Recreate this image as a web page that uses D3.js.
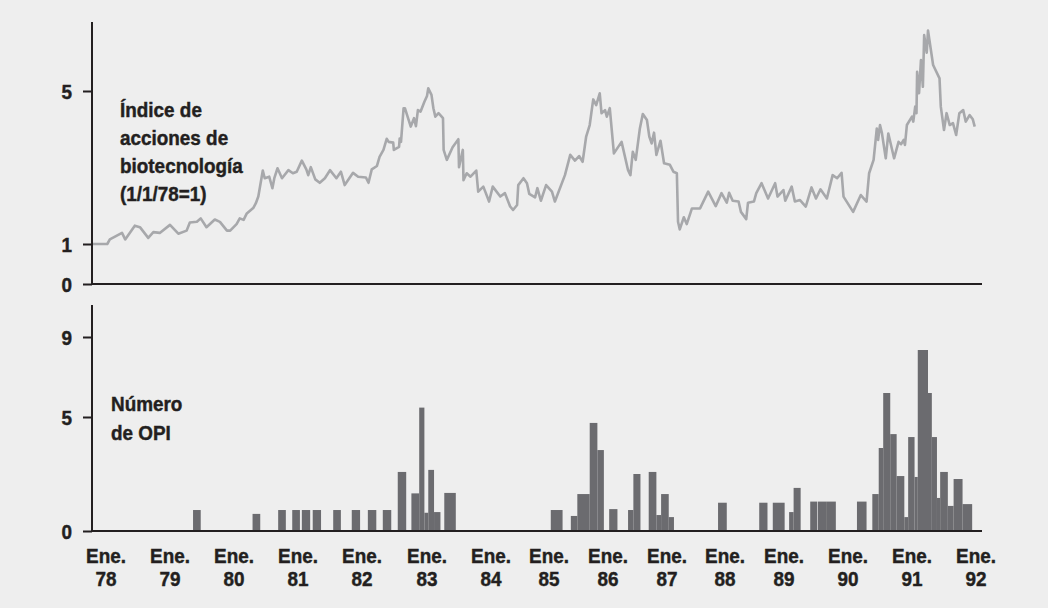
<!DOCTYPE html>
<html><head><meta charset="utf-8">
<script src="https://cdn.jsdelivr.net/npm/d3@7/dist/d3.min.js"></script>
<style>
html,body{margin:0;padding:0;background:#eeeeee;}
svg{display:block;}
text{font-family:"Liberation Sans",Arial,Helvetica,sans-serif;font-weight:bold;fill:#231f20;stroke:#231f20;stroke-width:0.45px;}
</style></head>
<body>
<svg id="chart" width="1048" height="608"></svg>
<script>
// ---- data ----
const yearTicks = [1978,1979,1980,1981,1982,1983,1984,1985,1986,1987,1988,1989,1990,1991,1992];
const tickLabels = ["78","79","80","81","82","83","84","85","86","87","88","89","90","91","92"];
const topTicks = [0,1,5];
const bottomTicks = [0,5,9];
const indexTitle = ["Índice de","acciones de","biotecnología","(1/1/78=1)"];
const ipoTitle = ["Número","de OPI"];

const indexDates = [1977.78,1978.02,1978.06,1978.25,1978.30,1978.45,1978.53,1978.66,1978.74,1978.84,1979.00,1979.13,1979.26,1979.31,1979.42,1979.48,1979.57,1979.70,1979.78,1979.89,1979.94,1980.04,1980.09,1980.15,1980.20,1980.30,1980.34,1980.38,1980.45,1980.48,1980.55,1980.60,1980.63,1980.68,1980.75,1980.85,1980.92,1980.98,1981.06,1981.13,1981.16,1981.20,1981.27,1981.34,1981.42,1981.50,1981.60,1981.67,1981.73,1981.86,1981.94,1982.06,1982.10,1982.15,1982.23,1982.27,1982.33,1982.38,1982.41,1982.48,1982.49,1982.57,1982.58,1982.60,1982.64,1982.66,1982.75,1982.80,1982.83,1982.86,1982.90,1982.96,1983.00,1983.02,1983.07,1983.10,1983.13,1983.18,1983.25,1983.26,1983.31,1983.40,1983.49,1983.50,1983.56,1983.57,1983.62,1983.68,1983.77,1983.80,1983.88,1983.97,1984.03,1984.16,1984.24,1984.33,1984.38,1984.45,1984.47,1984.56,1984.62,1984.66,1984.76,1984.80,1984.86,1984.95,1985.05,1985.10,1985.27,1985.36,1985.44,1985.51,1985.57,1985.63,1985.69,1985.72,1985.75,1985.80,1985.86,1985.89,1985.95,1985.98,1986.03,1986.10,1986.23,1986.34,1986.38,1986.42,1986.47,1986.54,1986.59,1986.66,1986.70,1986.74,1986.78,1986.82,1986.89,1986.95,1987.05,1987.11,1987.17,1987.19,1987.22,1987.29,1987.34,1987.43,1987.57,1987.71,1987.84,1987.94,1988.03,1988.07,1988.13,1988.23,1988.27,1988.36,1988.39,1988.49,1988.53,1988.62,1988.73,1988.85,1988.89,1988.99,1989.02,1989.12,1989.17,1989.25,1989.34,1989.43,1989.50,1989.57,1989.67,1989.76,1989.83,1989.90,1989.93,1990.08,1990.20,1990.29,1990.33,1990.40,1990.45,1990.47,1990.50,1990.53,1990.59,1990.63,1990.72,1990.79,1990.83,1990.87,1990.89,1990.92,1991.00,1991.02,1991.05,1991.07,1991.08,1991.11,1991.14,1991.17,1991.19,1991.23,1991.25,1991.33,1991.43,1991.45,1991.50,1991.54,1991.59,1991.64,1991.69,1991.74,1991.80,1991.84,1991.90,1991.95,1991.98];
const indexValues = [1.00,1.00,1.12,1.29,1.12,1.48,1.44,1.16,1.31,1.29,1.50,1.27,1.35,1.56,1.58,1.67,1.44,1.64,1.58,1.35,1.35,1.52,1.67,1.63,1.80,1.94,2.06,2.24,2.92,2.72,2.76,2.46,2.72,2.98,2.72,2.93,2.85,2.89,3.18,2.95,2.80,3.01,2.69,2.60,2.72,2.93,2.72,2.89,2.54,2.86,2.76,2.74,2.60,2.95,3.04,3.28,3.46,3.75,3.67,3.65,3.46,3.54,3.76,3.67,4.55,4.55,4.07,4.29,4.08,4.50,4.46,4.72,4.87,5.07,4.90,4.55,4.33,4.42,4.29,3.46,3.20,3.53,3.74,3.01,3.46,2.67,2.85,2.76,2.92,2.37,2.50,2.11,2.50,2.24,2.33,1.98,1.89,2.02,2.54,2.72,2.59,2.31,2.22,2.46,2.13,2.54,2.37,2.11,2.80,3.33,3.18,3.30,3.15,3.81,4.11,4.45,4.78,4.63,4.94,4.42,4.50,4.33,4.55,3.37,3.67,2.93,2.80,3.41,3.20,4.02,4.40,4.24,3.81,3.63,3.91,3.33,3.70,3.11,3.07,2.89,2.85,1.58,1.38,1.70,1.52,1.93,1.93,2.37,1.99,2.33,2.08,2.34,2.13,2.11,1.84,1.65,2.08,2.11,2.33,2.59,2.19,2.59,2.24,2.41,2.13,2.50,2.11,2.15,1.98,2.48,2.19,2.43,2.19,2.80,2.72,2.86,2.24,1.84,2.28,2.11,2.85,3.20,4.02,3.72,4.11,3.90,3.24,3.89,3.24,3.67,3.61,3.72,3.59,4.11,4.33,4.20,4.59,4.42,5.50,4.94,5.81,5.11,6.46,6.00,6.58,5.68,5.33,4.59,3.98,4.42,4.11,4.16,3.85,4.42,4.50,4.20,4.37,4.26,4.07];

const ipoStart = [1979.36,1980.29,1980.69,1980.91,1981.06,1981.23,1981.55,1981.84,1982.09,1982.32,1982.55,1982.76,1982.88,1982.96,1983.02,1983.11,1983.27,1985.03,1985.37,1985.48,1985.69,1985.82,1986.02,1986.34,1986.43,1986.69,1986.82,1986.90,1987.03,1987.88,1988.58,1988.81,1989.08,1989.15,1989.41,1989.53,1989.67,1990.14,1990.38,1990.48,1990.55,1990.66,1990.76,1990.88,1990.94,1991.04,1991.09,1991.25,1991.31,1991.39,1991.44,1991.56,1991.65,1991.79];
const ipoEnd   = [1979.48,1980.41,1980.81,1981.03,1981.19,1981.36,1981.67,1981.97,1982.22,1982.45,1982.68,1982.88,1982.96,1983.02,1983.11,1983.21,1983.45,1985.23,1985.48,1985.69,1985.82,1985.93,1986.16,1986.43,1986.55,1986.82,1986.90,1987.03,1987.12,1988.03,1988.72,1989.01,1989.15,1989.26,1989.52,1989.67,1989.81,1990.29,1990.48,1990.55,1990.66,1990.76,1990.88,1990.94,1991.04,1991.09,1991.25,1991.31,1991.39,1991.44,1991.56,1991.65,1991.79,1991.94];
const ipoCount = [0.92,0.75,0.92,0.92,0.92,0.92,0.92,0.92,0.92,0.92,2.59,1.65,5.47,0.80,2.68,0.83,1.67,0.92,0.66,1.62,4.74,3.55,0.96,0.92,2.50,2.59,0.70,1.62,0.61,1.24,1.24,1.24,0.83,1.89,1.29,1.29,1.29,1.29,1.62,3.64,6.20,4.25,2.41,0.61,4.12,2.37,8.35,6.20,4.12,1.45,2.59,1.10,2.28,1.18];

// ---- layout ----
const svg = d3.select("#chart");
const axisX = 92, axisRight = 982;
const FS = 21, SX = 0.9;

svg.append("rect").attr("width",1048).attr("height",608).attr("fill","#eeeeee");

const x = d3.scaleLinear().domain(yearTicks)
  .range([106,170,234,298,362,427,491,549,608,667,725,784,848,912,976]);
const yTop = d3.scaleLinear().domain([0,1,5]).range([284,244,91]);
const yBot = d3.scaleLinear().domain([0,5,9]).range([531,417,337]);

// condensed text helper (horizontal squeeze of a real text element)
function label(parent, tx, ty, str, anchor){
  return parent.append("text")
    .attr("transform",`translate(${tx},${ty}) scale(${SX},1)`)
    .attr("text-anchor", anchor || "start")
    .style("font-size",FS+"px").text(str);
}

// line
const lineData = indexDates.map((t,i)=>({t, v:indexValues[i]}));
svg.append("path").datum(lineData)
  .attr("fill","none").attr("stroke","#a7a8ab").attr("stroke-width",2.6)
  .attr("stroke-linejoin","round")
  .attr("d", d3.line().x(d=>x(d.t)).y(d=>yTop(d.v)));

// bars
const barData = ipoCount.map((v,i)=>({s:ipoStart[i], e:ipoEnd[i], v}));
svg.append("g").selectAll("rect").data(barData).join("rect")
  .attr("x", d=>x(d.s)).attr("width", d=>x(d.e)-x(d.s))
  .attr("y", d=>yBot(d.v)).attr("height", d=>yBot(0)-yBot(d.v))
  .attr("fill","#6b6b6f");

// axes
function leftAxis(scale, ticks, topY){
  const g = svg.append("g").attr("transform",`translate(${axisX},0)`)
    .call(d3.axisLeft(scale).tickValues(ticks).tickSize(9).tickPadding(11).tickFormat(d3.format("d")));
  g.select(".domain").remove();
  g.selectAll(".tick line").attr("stroke","#231f20").attr("stroke-width",2);
  g.selectAll(".tick text").style("font-size",FS+"px").attr("dy","0.36em").attr("fill","#231f20")
    .attr("x", -20/SX).attr("transform",`scale(${SX},1)`);
  svg.append("line").attr("x1",axisX).attr("x2",axisX).attr("y1",topY).attr("y2",scale(0))
    .attr("stroke","#231f20").attr("stroke-width",2);
  svg.append("line").attr("x1",axisX).attr("x2",axisRight).attr("y1",scale(0)).attr("y2",scale(0))
    .attr("stroke","#231f20").attr("stroke-width",2);
}
leftAxis(yTop, topTicks, 22);
leftAxis(yBot, bottomTicks, 305);

// x labels
const xg = svg.append("g");
yearTicks.forEach((yr,i)=>{
  label(xg, x(yr), 563, "Ene.", "middle");
  label(xg, x(yr), 586, tickLabels[i], "middle");
});

// titles
const tg = svg.append("g");
indexTitle.forEach((s,i)=>label(tg, 120, 117+i*28, s));
ipoTitle.forEach((s,i)=>label(tg, 111, 411+i*29, s));
</script>
</body></html>
